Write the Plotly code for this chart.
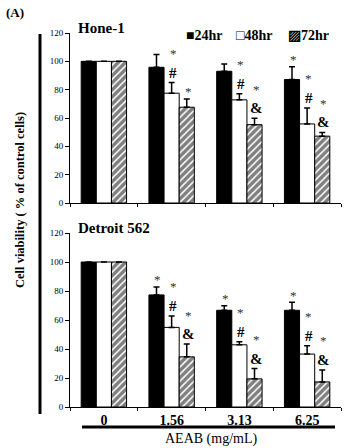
import plotly.graph_objects as go

categories = ["0", "1.56", "3.13", "6.25"]
series_names = ["24hr", "48hr", "72hr"]

hone_values = {
    "24hr": [100, 95.8, 93.0, 87.2],
    "48hr": [100, 77.5, 72.8, 55.8],
    "72hr": [100, 67.6, 55.3, 47.2],
}
hone_errors = {
    "24hr": [0, 9.0, 5.2, 8.9],
    "48hr": [0, 7.5, 4.4, 11.3],
    "72hr": [0, 5.9, 4.5, 2.6],
}
hone_marks = {
    "24hr": ["", "", "", "*"],
    "48hr": ["", "#*", "#*", "#*"],
    "72hr": ["", "*", "&*", "&*"],
}

detroit_values = {
    "24hr": [100, 77.3, 66.7, 66.7],
    "48hr": [100, 54.9, 42.9, 36.5],
    "72hr": [100, 34.6, 19.4, 17.3],
}
detroit_errors = {
    "24hr": [0, 5.5, 3.2, 5.5],
    "48hr": [0, 7.9, 2.1, 5.7],
    "72hr": [0, 8.8, 7.1, 8.3],
}
detroit_marks = {
    "24hr": ["", "*", "*", "*"],
    "48hr": ["", "#*", "#*", "#*"],
    "72hr": ["", "&*", "&*", "&*"],
}

y_ticks = [0, 20, 40, 60, 80, 100, 120]
panel_titles = ["Hone-1", "Detroit 562"]
x_title = "AEAB (mg/mL)"
y_title = "Cell viability ( % of control cells)"
legend_items = [("■", "24hr"), ("□", "48hr"), ("▨", "72hr")]

W, H = 345, 448
X0, X1 = 70, 341
panels = [(33, 203), (233, 407)]
BARGAP = 0.33
FONT = "Liberation Serif, Times New Roman, Tinos, serif"

styles = {
    "24hr": dict(marker_color="black"),
    "48hr": dict(marker_color="white"),
    "72hr": dict(marker_color="white",
                 marker_pattern=dict(shape="/", fgcolor="black", bgcolor="white", size=5, solidity=0.7)),
}

fig = go.Figure()
datasets = [(hone_values, hone_errors, hone_marks), (detroit_values, detroit_errors, detroit_marks)]
annotations = []
bar_px = (X1 - X0) / len(categories) * (1 - BARGAP) / 3

for p, (vals, errs, marks) in enumerate(datasets):
    xa = "x" if p == 0 else "x2"
    ya = "y" if p == 0 else "y2"
    for s, name in enumerate(series_names):
        fig.add_trace(go.Bar(
            x=categories, y=vals[name], name=name, xaxis=xa, yaxis=ya,
            marker_line=dict(color="black", width=1), showlegend=False,
            error_y=dict(type="data", symmetric=False, array=errs[name],
                         arrayminus=[0] * len(categories), color="black", thickness=1.5, width=3),
            **styles[name]))
        for c, cat in enumerate(categories):
            top = vals[name][c] + errs[name][c]
            for k, ch in enumerate(marks[name][c]):
                star = ch == "*"
                annotations.append(dict(
                    x=c, y=top, xref=xa, yref=ya, text=ch, showarrow=False,
                    xshift=(s - 1) * bar_px + 1.5, yshift=(10 if k == 0 else 32) - (3 if star else 0),
                    yanchor="middle",
                    font=dict(family=FONT, size=13 if star else 15,
                              color="#333" if star else "black",
                              weight="normal" if star else "bold")))

layout = dict(
    width=W, height=H, margin=dict(l=0, r=0, t=0, b=0),
    paper_bgcolor="white", plot_bgcolor="white",
    barmode="group", bargap=BARGAP, bargroupgap=0,
    showlegend=False,
)
for p, (top, bot) in enumerate(panels):
    suffix = "" if p == 0 else "2"
    layout["xaxis" + suffix] = dict(
        domain=[X0 / W, X1 / W], anchor="y" + suffix, type="category",
        range=[-0.5, len(categories) - 0.5], autorange=False, automargin=False,
        showline=True, linecolor="black", linewidth=1, ticks="outside", tickson="boundaries",
        ticklen=3, tickcolor="black", showgrid=False, zeroline=False,
        showticklabels=(p == 1), tickfont=dict(family=FONT, size=14, color="black", weight="bold"),
    )
    layout["yaxis" + suffix] = dict(
        domain=[(H - bot) / H, (H - top) / H], anchor="x" + suffix, range=[0, 120], autorange=False,
        automargin=False,
        tickvals=y_ticks, showline=True, linecolor="black", linewidth=1, ticks="outside",
        ticklen=4, tickcolor="black", showgrid=False, zeroline=False,
        tickfont=dict(family=FONT, size=9, color="black"),
    )
    annotations.append(dict(x=76 / W, y=(H - top + 5) / H, xref="paper", yref="paper",
                            text=panel_titles[p], showarrow=False, xanchor="left", yanchor="middle",
                            font=dict(family=FONT, size=15, color="black", weight="bold")))

legend_x = [184, 234, 286]
for (glyph, label), lx in zip(legend_items, legend_x):
    annotations.append(dict(x=lx / W, y=(H - 35) / H, xref="paper", yref="paper",
                            text=glyph + label, showarrow=False, xanchor="left", yanchor="middle",
                            font=dict(family=FONT, size=14, color="black", weight="bold")))

annotations += [
    dict(x=4 / W, y=(H - 12) / H, xref="paper", yref="paper", text="(A)", showarrow=False,
         xanchor="left", yanchor="middle", font=dict(family=FONT, size=13, color="black", weight="bold")),
    dict(x=20 / W, y=(H - 200) / H, xref="paper", yref="paper", text=y_title, showarrow=False,
         textangle=-90, xanchor="center", yanchor="middle",
         font=dict(family=FONT, size=12.5, color="black", weight="bold")),
    dict(x=211 / W, y=(H - 439) / H, xref="paper", yref="paper", text=x_title, showarrow=False,
         xanchor="center", yanchor="middle", font=dict(family=FONT, size=14, color="black")),
]
layout["annotations"] = annotations
layout["shapes"] = [
    dict(type="line", xref="paper", yref="paper", x0=40 / W, x1=40 / W, y0=(H - 34) / H, y1=(H - 414) / H,
         line=dict(color="black", width=3)),
    dict(type="line", xref="paper", yref="paper", x0=82 / W, x1=335 / W, y0=(H - 427) / H, y1=(H - 427) / H,
         line=dict(color="black", width=3)),
]
fig.update_layout(**layout)
fig.write_html("out.html", config={"displayModeBar": False},
               post_script="document.body.style.margin='0';document.body.style.overflow='hidden';")
